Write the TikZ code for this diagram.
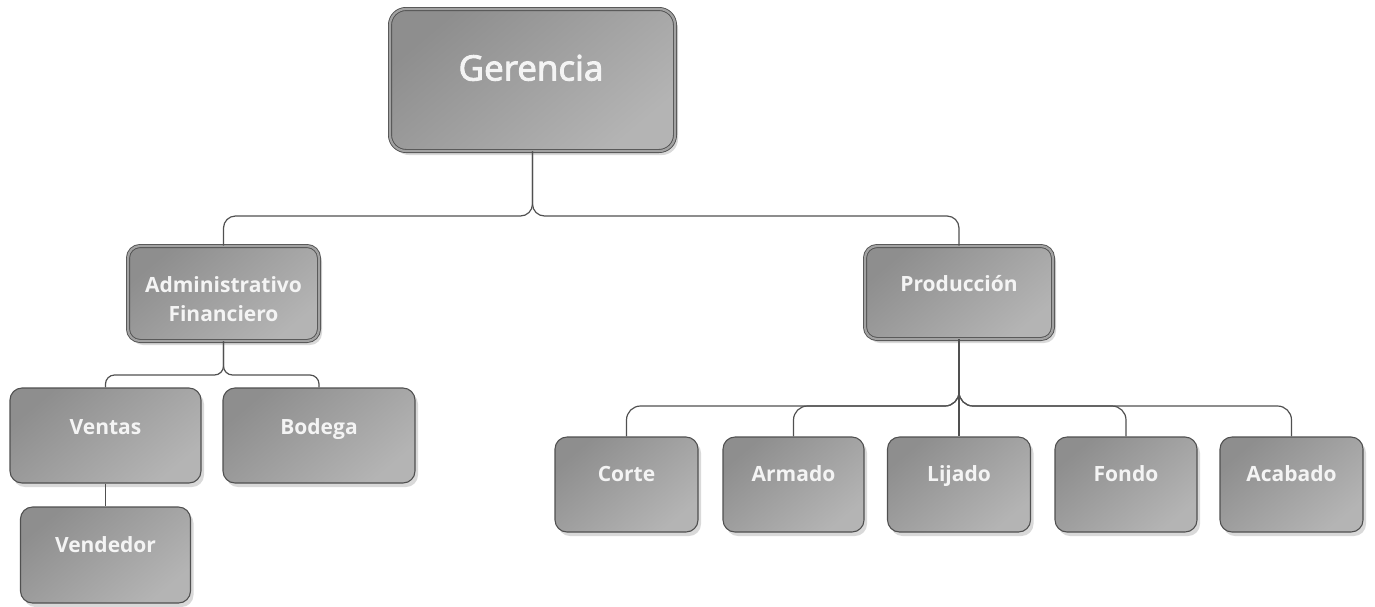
\documentclass[tikz,border=0pt]{standalone}
\usepackage{fontspec}
\setmainfont{Open Sans}
\newfontfamily\gerfont{Open Sans}[FakeBold=2.6]
\usetikzlibrary{shadows,calc}
\definecolor{lineC}{HTML}{505050}
\definecolor{boxA}{HTML}{8E8E8E}
\definecolor{boxB}{HTML}{B4B4B4}
\definecolor{ringC}{HTML}{A2A2A2}
\definecolor{txtC}{HTML}{F4F4F4}
\tikzset{
  box/.style={draw=lineC, line width=1.1pt, rounded corners=12pt, inner sep=0pt,
    top color=boxA, bottom color=boxB, shading angle=40,
    drop shadow={shadow xshift=3pt, shadow yshift=-4pt, opacity=0.25, fill=black!60}},
  topbox/.style={box, line width=0.9pt, double=ringC, double distance=2.2pt},
  lblbase/.style={text=txtC, font=\bfseries\fontsize{21}{29}\selectfont, align=center, inner sep=0pt},
  lbl/.style={lblbase, text height=15pt, text depth=0pt},
  conn/.style={draw=lineC, line width=1.2pt, rounded corners=12pt},
}
\begin{document}
\begin{tikzpicture}[x=1pt, y=-1pt]
\useasboundingbox (0,0) rectangle (1375,606);
% top level
\node[topbox, rounded corners=16pt, minimum width=285pt, minimum height=142pt] (g) at (532.5,80) {};
\node[text=txtC, inner sep=0pt, text height=25pt, text depth=0pt, font=\gerfont\fontsize{35}{40}\selectfont] (gt) at (531,68) {Gerencia};
\node[topbox, minimum width=191pt, minimum height=95pt] (a) at (223.5,293.5) {};
\node[lblbase] (at) at (223.5,299) {Administrativo\\Financiero};
\node[topbox, minimum width=188pt, minimum height=93pt] (p) at (959,292.5) {};
\node[lbl] (pt) at (959,284) {Producción};
% admin children
\node[box, minimum width=191pt, minimum height=95pt] (ven) at (105.5,435.5) {};
\node[lbl] (vent) at (105.5,427) {Ventas};
\node[box, minimum width=192pt, minimum height=95pt] (bod) at (319,435.5) {};
\node[lbl] (bodt) at (319,427) {Bodega};
\node[box, minimum width=170pt, minimum height=96pt] (vdd) at (105.5,555) {};
\node[lbl] (vddt) at (105.5,545) {Vendedor};
% production children
\node[box, minimum width=143pt, minimum height=95pt] (cor) at (626.5,484.5) {};
\node[lbl] (cort) at (626.5,474) {Corte};
\node[box, minimum width=141pt, minimum height=95pt] (arm) at (793.5,484.5) {};
\node[lbl] (armt) at (793.5,474) {Armado};
\node[box, minimum width=143pt, minimum height=95pt] (lij) at (959,484.5) {};
\node[lbl] (lijt) at (959,474) {Lijado};
\node[box, minimum width=142pt, minimum height=95pt] (fon) at (1126,484.5) {};
\node[lbl] (font) at (1126,474) {Fondo};
\node[box, minimum width=143pt, minimum height=95pt] (aca) at (1291.5,484.5) {};
\node[lbl] (acat) at (1291.5,474) {Acabado};
% bus junctions
\coordinate (gbus) at (532.5,216);
\coordinate (abus) at (223.5,375);
\coordinate (pbus) at (959,406);
% connectors
\draw[conn] (g.south) -- (gbus) -| (a.north);
\draw[conn] (g.south) -- (gbus) -| (p.north);
\draw[conn, rounded corners=9pt] (a.south) -- (abus) -| (ven.north);
\draw[conn, rounded corners=9pt] (a.south) -- (abus) -| (bod.north);
\draw[conn] (ven.south) -- (vdd.north);
\draw[conn, rounded corners=14pt] (p.south) -- (pbus) -| (cor.north);
\draw[conn, rounded corners=14pt] (p.south) -- (pbus) -| (arm.north);
\draw[conn] (p.south) -- (lij.north);
\draw[conn, rounded corners=14pt] (p.south) -- (pbus) -| (fon.north);
\draw[conn, rounded corners=14pt] (p.south) -- (pbus) -| (aca.north);
\end{tikzpicture}
\end{document}
